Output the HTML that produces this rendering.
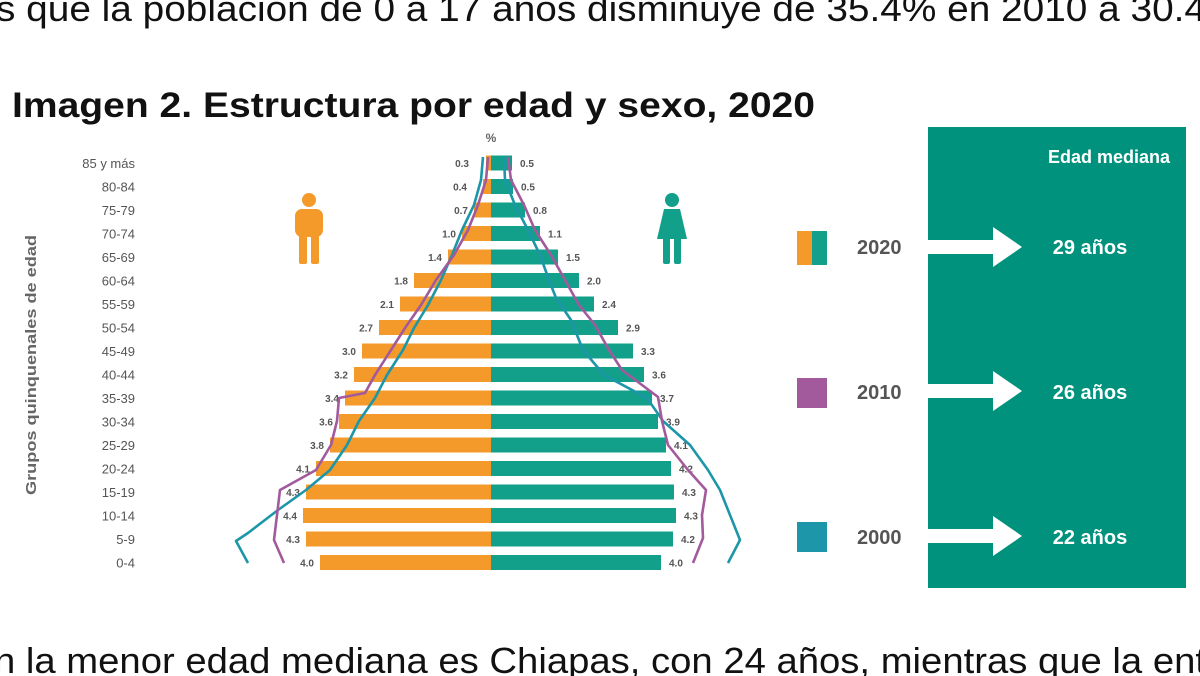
<!DOCTYPE html>
<html><head><meta charset="utf-8"><style>
html,body{margin:0;padding:0;background:#fff;width:1200px;height:676px;overflow:hidden}
svg{display:block}
</style></head><body>
<svg width="1200" height="676" viewBox="0 0 1200 676" xmlns="http://www.w3.org/2000/svg" font-family="'Liberation Sans', Arial, sans-serif">
<text x="-4" y="21" font-size="36" fill="#111" textLength="1210" lengthAdjust="spacingAndGlyphs">s que la población de 0 a 17 años disminuye de 35.4% en 2010 a 30.4</text>
<text x="12" y="117" font-size="35" font-weight="bold" fill="#111" textLength="803" lengthAdjust="spacingAndGlyphs">Imagen 2. Estructura por edad y sexo, 2020</text>
<text x="-6" y="673" font-size="36" fill="#111" textLength="1212" lengthAdjust="spacingAndGlyphs">n la menor edad mediana es Chiapas, con 24 años, mientras que la ent</text>

<text x="491" y="142" font-size="12" font-weight="bold" fill="#666" text-anchor="middle">%</text>
<text transform="translate(36,365) rotate(-90)" font-size="15" font-weight="bold" fill="#666" text-anchor="middle" textLength="260" lengthAdjust="spacingAndGlyphs">Grupos quinquenales de edad</text>

<g font-size="13" fill="#555" text-anchor="end">
<text x="135" y="168">85 y más</text>
<text x="135" y="191.5">80-84</text>
<text x="135" y="215">75-79</text>
<text x="135" y="238.5">70-74</text>
<text x="135" y="262">65-69</text>
<text x="135" y="285.5">60-64</text>
<text x="135" y="309">55-59</text>
<text x="135" y="332.5">50-54</text>
<text x="135" y="356">45-49</text>
<text x="135" y="379.5">40-44</text>
<text x="135" y="403">35-39</text>
<text x="135" y="426.5">30-34</text>
<text x="135" y="450">25-29</text>
<text x="135" y="473.5">20-24</text>
<text x="135" y="497">15-19</text>
<text x="135" y="520.5">10-14</text>
<text x="135" y="544">5-9</text>
<text x="135" y="567.5">0-4</text>
</g>

<g fill="#f39a2b">
<rect x="486" y="155.5" width="5" height="15"/>
<rect x="483" y="179" width="8" height="15"/>
<rect x="474" y="202.5" width="17" height="15"/>
<rect x="462" y="226" width="29" height="15"/>
<rect x="448" y="249.5" width="43" height="15"/>
<rect x="414" y="273" width="77" height="15"/>
<rect x="400" y="296.5" width="91" height="15"/>
<rect x="379" y="320" width="112" height="15"/>
<rect x="362" y="343.5" width="129" height="15"/>
<rect x="354" y="367" width="137" height="15"/>
<rect x="345" y="390.5" width="146" height="15"/>
<rect x="339" y="414" width="152" height="15"/>
<rect x="330" y="437.5" width="161" height="15"/>
<rect x="316" y="461" width="175" height="15"/>
<rect x="306" y="484.5" width="185" height="15"/>
<rect x="303" y="508" width="188" height="15"/>
<rect x="306" y="531.5" width="185" height="15"/>
<rect x="320" y="555" width="171" height="15"/>
</g>
<g fill="#12a08a">
<rect x="491" y="155.5" width="21" height="15"/>
<rect x="491" y="179" width="22" height="15"/>
<rect x="491" y="202.5" width="34" height="15"/>
<rect x="491" y="226" width="49" height="15"/>
<rect x="491" y="249.5" width="67" height="15"/>
<rect x="491" y="273" width="88" height="15"/>
<rect x="491" y="296.5" width="103" height="15"/>
<rect x="491" y="320" width="127" height="15"/>
<rect x="491" y="343.5" width="142" height="15"/>
<rect x="491" y="367" width="153" height="15"/>
<rect x="491" y="390.5" width="161" height="15"/>
<rect x="491" y="414" width="167" height="15"/>
<rect x="491" y="437.5" width="175" height="15"/>
<rect x="491" y="461" width="180" height="15"/>
<rect x="491" y="484.5" width="183" height="15"/>
<rect x="491" y="508" width="185" height="15"/>
<rect x="491" y="531.5" width="182" height="15"/>
<rect x="491" y="555" width="170" height="15"/>
</g>

<g font-size="10" font-weight="bold" fill="#555" text-anchor="end">
<text x="469" y="167">0.3</text>
<text x="467" y="190.5">0.4</text>
<text x="468" y="214">0.7</text>
<text x="456" y="237.5">1.0</text>
<text x="442" y="261">1.4</text>
<text x="408" y="284.5">1.8</text>
<text x="394" y="308">2.1</text>
<text x="373" y="331.5">2.7</text>
<text x="356" y="355">3.0</text>
<text x="348" y="378.5">3.2</text>
<text x="339" y="402">3.4</text>
<text x="333" y="425.5">3.6</text>
<text x="324" y="449">3.8</text>
<text x="310" y="472.5">4.1</text>
<text x="300" y="496">4.3</text>
<text x="297" y="519.5">4.4</text>
<text x="300" y="543">4.3</text>
<text x="314" y="566.5">4.0</text>
</g>
<g font-size="10" font-weight="bold" fill="#555">
<text x="520" y="167">0.5</text>
<text x="521" y="190.5">0.5</text>
<text x="533" y="214">0.8</text>
<text x="548" y="237.5">1.1</text>
<text x="566" y="261">1.5</text>
<text x="587" y="284.5">2.0</text>
<text x="602" y="308">2.4</text>
<text x="626" y="331.5">2.9</text>
<text x="641" y="355">3.3</text>
<text x="652" y="378.5">3.6</text>
<text x="660" y="402">3.7</text>
<text x="666" y="425.5">3.9</text>
<text x="674" y="449">4.1</text>
<text x="679" y="472.5">4.2</text>
<text x="682" y="496">4.3</text>
<text x="684" y="519.5">4.3</text>
<text x="681" y="543">4.2</text>
<text x="669" y="566.5">4.0</text>
</g>

<g fill="none" stroke-width="2.6" stroke-linejoin="round">
<polyline stroke="#1c96a8" points="483,157 481,180 474,205 462,230 452,255 441,280 428,305 414,328 403,350 387,375 375,398 359,421 347,445 330,470 306,490 278,510 248,533 236,541 248,563"/>
<polyline stroke="#a25a9d" points="488,157 486,180 478,205 468,230 454,255 436,280 421,305 405,328 391,350 375,375 365,393 339,398 337,421 331,445 316,470 280,490 277,515 274,540 284,563"/>
<polyline stroke="#1c96a8" points="504,157 505,180 515,205 528,230 540,255 549,280 556,298 571,320 583,350 604,375 647,398 663,421 690,445 708,470 720,490 740,540 728,563"/>
<polyline stroke="#a25a9d" points="508,157 511,180 524,205 535,230 551,255 565,280 579,305 595,325 609,350 622,370 658,397 662,421 668,445 688,470 706,490 702,515 703,538 693,563"/>
</g>

<g fill="#f39a2b">
<circle cx="309" cy="200" r="7"/>
<rect x="295" y="209" width="28" height="28" rx="7"/>
<rect x="299" y="230" width="8" height="34" rx="2"/>
<rect x="311" y="230" width="8" height="34" rx="2"/>
</g>
<g fill="#12a08a">
<circle cx="672" cy="200" r="7"/>
<path d="M664,209 h16 l7,30 h-30 z"/>
<rect x="663" y="236" width="7" height="28" rx="2"/>
<rect x="674" y="236" width="7" height="28" rx="2"/>
</g>

<rect x="928" y="127" width="258" height="461" fill="#00927c"/>
<text x="1170" y="163" font-size="18" font-weight="bold" fill="#fff" text-anchor="end">Edad mediana</text>

<rect x="797" y="231" width="15" height="34" fill="#f39a2b"/>
<rect x="812" y="231" width="15" height="34" fill="#12a08a"/>
<rect x="797" y="378" width="30" height="30" fill="#a25a9d"/>
<rect x="797" y="522" width="30" height="30" fill="#1c96a8"/>
<g font-size="20" font-weight="bold" fill="#555">
<text x="857" y="254">2020</text>
<text x="857" y="399">2010</text>
<text x="857" y="544">2000</text>
</g>
<g fill="#fff">
<path d="M928,240 h65 v-13 l29,20 l-29,20 v-13 h-65 z"/>
<path d="M928,384 h65 v-13 l29,20 l-29,20 v-13 h-65 z"/>
<path d="M928,529 h65 v-13 l29,20 l-29,20 v-13 h-65 z"/>
<g font-size="20" font-weight="bold" text-anchor="middle">
<text x="1090" y="254">29 años</text>
<text x="1090" y="399">26 años</text>
<text x="1090" y="544">22 años</text>
</g>
</g>
</svg>
</body></html>
